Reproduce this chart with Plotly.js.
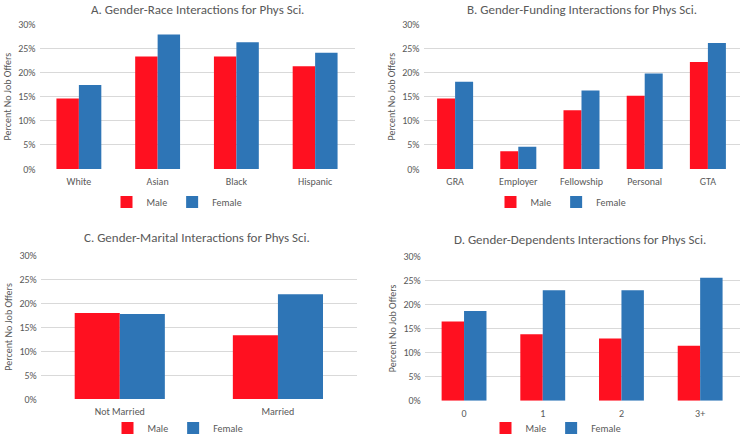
<!DOCTYPE html>
<html>
<head>
<meta charset="utf-8">
<script src="https://cdn.plot.ly/plotly-3.0.1.min.js"></script>
<style>html,body{margin:0;padding:0;background:#fff}#chart{width:740px;height:437px}</style>
</head>
<body>
<div id="chart"></div>
<script>
// Panel A: Gender-Race
const raceCats = ["White", "Asian", "Black", "Hispanic"];
const raceMale = [14.6, 23.3, 23.3, 21.3];
const raceFemale = [17.4, 27.9, 26.3, 24.1];
// Panel B: Gender-Funding
const fundCats = ["GRA", "Employer", "Fellowship", "Personal", "GTA"];
const fundMale = [14.6, 3.7, 12.2, 15.2, 22.2];
const fundFemale = [18.1, 4.6, 16.3, 19.8, 26.1];
// Panel C: Gender-Marital
const maritalCats = ["Not Married", "Married"];
const maritalMale = [17.9, 13.3];
const maritalFemale = [17.7, 21.8];
// Panel D: Gender-Dependents
const depCats = ["0", "1", "2", "3+"];
const depMale = [16.4, 13.8, 12.9, 11.4];
const depFemale = [18.6, 22.9, 22.9, 25.5];

const titles = [
  "A. Gender-Race Interactions for Phys Sci.",
  "B. Gender-Funding Interactions for Phys Sci.",
  "C. Gender-Marital Interactions for Phys Sci.",
  "D. Gender-Dependents Interactions for Phys Sci."
];
const yTitle = "Percent No Job Offers";

const RED = "#FF1020", BLUE = "#2E75B6", TXT = "#595959", GRID = "#D9D9D9";
const FONT = "Carlito, Lato, 'Liberation Sans', sans-serif";

const panels = [
  {cats: raceCats, m: raceMale, f: raceFemale},
  {cats: fundCats, m: fundMale, f: fundFemale},
  {cats: maritalCats, m: maritalMale, f: maritalFemale},
  {cats: depCats, m: depMale, f: depFemale}
];
const W = 740, H = 437;
const px = (a, b) => [a / W, b / W];
const py = (top, bottom) => [1 - bottom / H, 1 - top / H];
const xDomains = [px(39.5, 354.5), px(423.5, 739.5), px(40.7, 357), px(424.7, 739.5)];
const yDomains = [py(24.3, 169), py(24.3, 169), py(255, 399), py(256, 400.7)];
const legendPos = [[177, 202], [561, 202], [178, 428], [556, 428]];
const titleTop = [[197, 0], [582, 0], [197, 228], [580, 229.5]];

const traces = [];
const layout = {
  width: W, height: H,
  margin: {l: 0, r: 0, t: 0, b: 0, autoexpand: false},
  paper_bgcolor: "#fff", plot_bgcolor: "#fff",
  font: {family: FONT, color: TXT, size: 10},
  barmode: "group", bargap: 0.43, bargroupgap: 0,
  annotations: []
};
panels.forEach((p, i) => {
  const n = i + 1;
  const xa = n === 1 ? "x" : "x" + n, ya = n === 1 ? "y" : "y" + n;
  const lg = n === 1 ? "legend" : "legend" + n;
  traces.push({type: "bar", name: "Male", x: p.cats, y: p.m, xaxis: xa, yaxis: ya,
    marker: {color: RED}, legend: lg, hoverinfo: "y"});
  traces.push({type: "bar", name: "Female", x: p.cats, y: p.f, xaxis: xa, yaxis: ya,
    marker: {color: BLUE}, legend: lg, hoverinfo: "y"});
  layout["xaxis" + (n === 1 ? "" : n)] = {
    domain: xDomains[i], anchor: ya, type: "category",
    showgrid: false, zeroline: false, showline: false, ticks: "",
    ticklabelstandoff: 5,
    tickfont: {size: 10, color: TXT}, fixedrange: true
  };
  layout["yaxis" + (n === 1 ? "" : n)] = {
    domain: yDomains[i], anchor: xa, range: [0, 30], dtick: 5,
    ticksuffix: "%", showgrid: true, gridcolor: GRID, gridwidth: 1,
    zeroline: false, showline: false, ticks: "",
    ticklabelstandoff: 3,
    tickfont: {size: 10, color: TXT}, fixedrange: true,
    title: {text: yTitle, font: {size: 10, color: TXT}, standoff: 4}
  };
  layout[lg] = {
    orientation: "h", x: legendPos[i][0] / W, xanchor: "center",
    y: 1 - legendPos[i][1] / H, yanchor: "middle",
    font: {size: 10, color: TXT}, bgcolor: "rgba(0,0,0,0)",
    itemwidth: 30, traceorder: "normal", borderwidth: 0
  };
  layout.annotations.push({
    text: titles[i], xref: "paper", yref: "paper",
    x: titleTop[i][0] / W, y: 1 - titleTop[i][1] / H,
    xanchor: "center", yanchor: "top", showarrow: false,
    font: {size: 13, color: TXT}
  });
});
Plotly.newPlot("chart", traces, layout, {staticPlot: true, displayModeBar: false});
</script>
</body>
</html>
